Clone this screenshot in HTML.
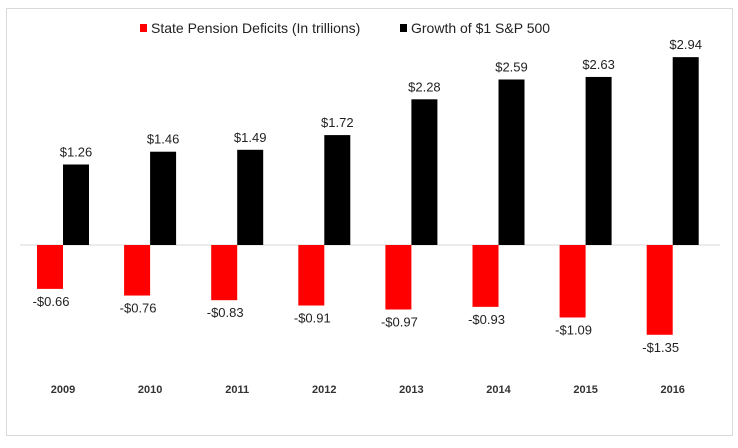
<!DOCTYPE html>
<html><head><meta charset="utf-8"><style>
body{margin:0;background:#fff;width:738px;height:443px;overflow:hidden}
svg{font-family:"Liberation Sans",Arial,sans-serif}
</style></head><body>
<svg id="chart" width="738" height="443" xmlns="http://www.w3.org/2000/svg">
<rect x="6.5" y="8.5" width="726" height="427" fill="#fff" stroke="#d9d9d9"/>
<g>
<rect x="140" y="24" width="7" height="8" fill="#ff0000"/>
<text x="151" y="33" font-size="14" fill="#222">State Pension Deficits (In trillions)</text>
<rect x="400" y="24" width="7" height="8" fill="#000"/>
<text x="411" y="33" font-size="14" fill="#222">Growth of $1 S&amp;P 500</text>
</g>
<line x1="20" x2="720" y1="245" y2="245" stroke="#d9d9d9"/>
<g id="marks"></g>
</svg>
<script>
const categories=["2009","2010","2011","2012","2013","2014","2015","2016"];
const sp500=[1.26,1.46,1.49,1.72,2.28,2.59,2.63,2.94];
const deficits=[-0.66,-0.76,-0.83,-0.91,-0.97,-0.93,-1.09,-1.35];
const sp500Labels=["$1.26","$1.46","$1.49","$1.72","$2.28","$2.59","$2.63","$2.94"];
const deficitLabels=["-$0.66","-$0.76","-$0.83","-$0.91","-$0.97","-$0.93","-$1.09","-$1.35"];

const NS="http://www.w3.org/2000/svg";
const base=245, bw=26;
function xc(i){return 63+i*87.1;}
function yBlack(v){return base-v*63.9;}
function yRed(v){return base-v*66.5;}
const g=document.getElementById('marks');
function mk(tag,attrs){const e=document.createElementNS(NS,tag);for(const k in attrs)e.setAttribute(k,attrs[k]);g.appendChild(e);return e;}
categories.forEach((c,i)=>{
  const x=xc(i);
  const yb=yBlack(sp500[i]);
  const b=mk('rect',{x:x,y:yb,width:bw,height:base-yb,fill:'#000'});
  
  
  const yr=yRed(deficits[i]);
  const r=mk('rect',{x:x-bw,y:base,width:bw,height:yr-base,fill:'#ff0000'});
  
  
  const t1=mk('text',{x:x+bw/2,y:yb-8,'text-anchor':'middle','font-size':'13',fill:'#222'});
  t1.textContent=sp500Labels[i];
  
  
  const t2=mk('text',{x:x-bw/2+1,y:yr+17,'text-anchor':'middle','font-size':'13',fill:'#222'});
  t2.textContent=deficitLabels[i];
  
  
  const t3=mk('text',{x:x,y:393,'text-anchor':'middle','font-size':'11','font-weight':'bold',fill:'#333'});
  t3.textContent=c;
  
  
});
</script>
</body></html>
